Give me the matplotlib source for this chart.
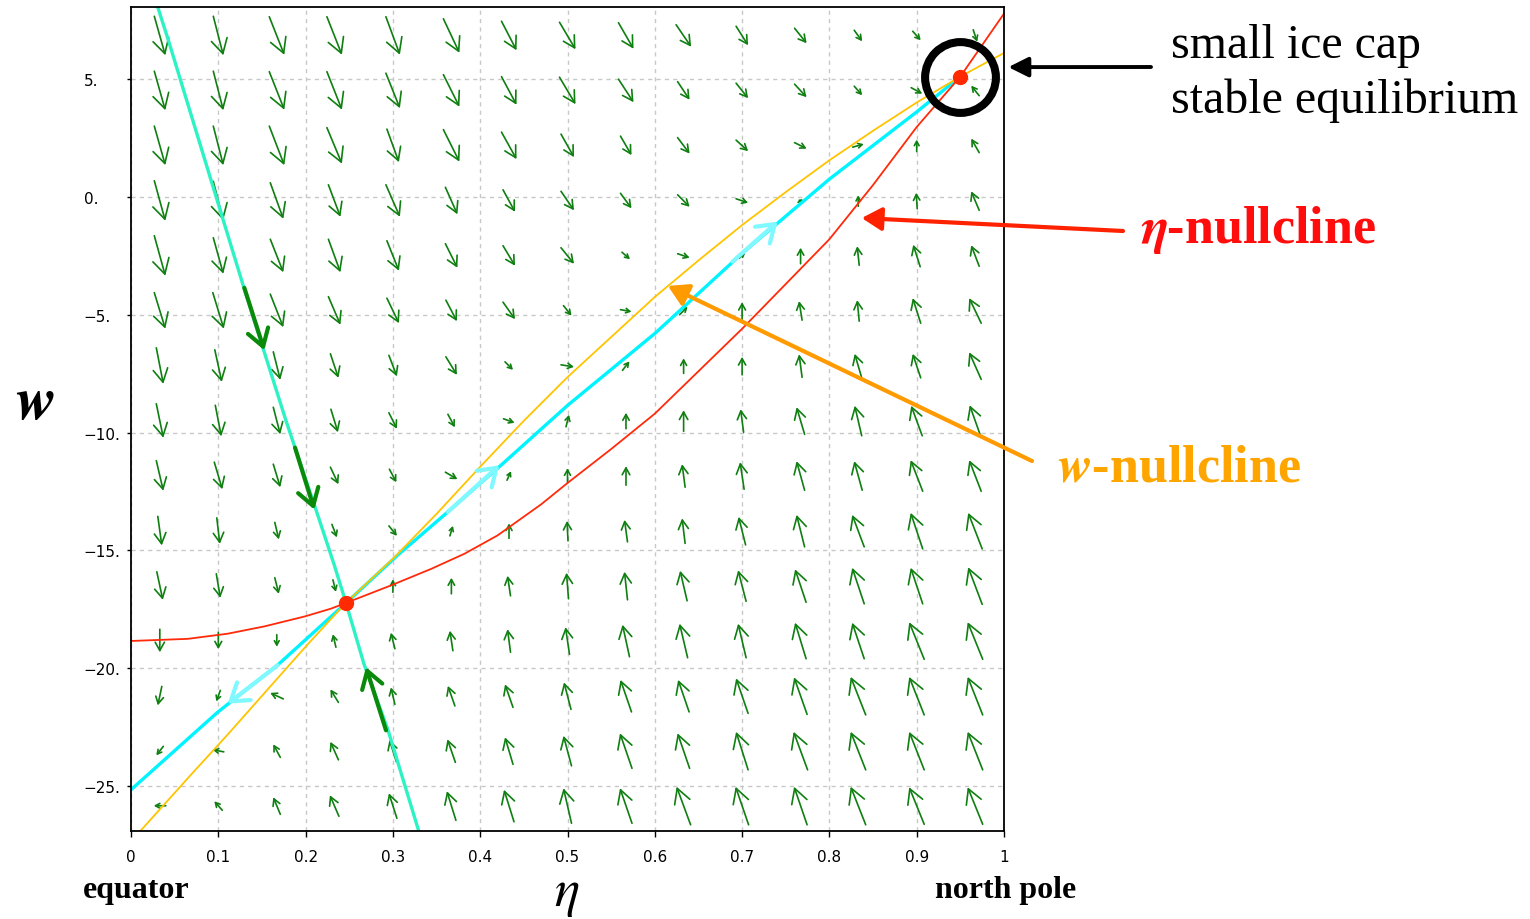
import numpy as np
import matplotlib
matplotlib.use("Agg")
import matplotlib.pyplot as plt
from matplotlib.patches import FancyArrowPatch, ArrowStyle

plt.rcParams["mathtext.fontset"] = "stix"
plt.rcParams["font.family"] = ["DejaVu Sans"]
SERIF = ["Liberation Serif", "DejaVu Serif"]

# ---- vector field (grid centres and drawn arrow components) ----
eta_grid = [0.033, 0.1, 0.167, 0.233, 0.3, 0.367, 0.433, 0.5, 0.567, 0.633, 0.7, 0.767, 0.833, 0.9, 0.967]
w_grid = [6.83, 4.5, 2.17, -0.17, -2.5, -4.83, -7.17, -9.5, -11.83, -14.17, -16.5, -18.83, -21.17, -23.5, -25.83]
# arrow components in pixels of the 1530x920 figure (right positive, down positive), one row per w_grid value
arrow_dx = [
    [11, 10, 15, 15, 14, 16, 15, 16, 15, 15, 12, 12, 8, 8, 4],
    [11, 10, 15, 15, 14, 16, 15, 16, 15, 12, 12, 12, 8, 11, -8],
    [11, 10, 15, 15, 12, 16, 15, 13, 11, 12, 12, 12, 11, 0, -8],
    [11, 10, 13, 12, 14, 12, 12, 13, 11, 12, 12, 5, 0, -1, -8],
    [11, 10, 13, 12, 12, 12, 12, 13, 8, 12, 6, 0, -2, -7, -8],
    [11, 11, 13, 12, 12, 11, 12, 8, 11, 8, 0, -3, -2, -8, -12],
    [7, 7, 7, 8, 8, 11, 8, 13, 7, 0, 0, -3, -7, -8, -12],
    [7, 6, 7, 7, 8, 7, 11, 3, 0, 0, -3, -8, -7, -11, -11],
    [7, 8, 7, 8, 7, 12, 4, 0, 0, -3, -4, -8, -8, -12, -12],
    [4, 3, 4, 5, 8, 3, 0, -1, -3, -3, -7, -8, -12, -12, -14],
    [6, 4, 4, 3, 0, 0, -3, -2, -3, -7, -8, -11, -12, -12, -14],
    [0, 0, 0, -3, -4, -3, -3, -4, -7, -8, -8, -11, -12, -15, -15],
    [-4, -4, -13, -8, -4, -7, -8, -7, -11, -11, -12, -13, -15, -15, -15],
    [-7, -11, -7, -8, -7, -8, -8, -8, -12, -12, -12, -14, -15, -15, -15],
    [-12, -8, -7, -9, -8, -9, -10, -8, -12, -14, -13, -13, -15, -15, -15],
]
arrow_dy = [
    [39, 39, 38, 38, 38, 34, 29, 27, 26, 22, 19, 15, 11, 9, 12],
    [39, 39, 38, 38, 35, 32, 28, 27, 23, 18, 15, 13, 9, 6, -10],
    [39, 39, 39, 36, 33, 32, 27, 23, 19, 16, 11, 6, -3, -12, -14],
    [40, 39, 36, 32, 32, 27, 22, 19, 15, 12, 4, -3, -11, -16, -19],
    [40, 36, 33, 33, 30, 24, 20, 16, 7, 4, -5, -16, -19, -22, -21],
    [36, 36, 33, 28, 25, 21, 17, 10, 2, -8, -17, -19, -21, -25, -25],
    [36, 32, 28, 24, 21, 18, 8, 2, -9, -15, -18, -23, -24, -24, -27],
    [34, 31, 27, 23, 16, 13, 4, -12, -16, -21, -23, -27, -30, -30, -31],
    [30, 27, 23, 17, 13, 7, -9, -15, -19, -23, -27, -29, -29, -31, -31],
    [29, 26, 17, 13, 10, -10, -15, -20, -22, -25, -28, -32, -32, -36, -36],
    [28, 24, 16, 12, -13, -16, -20, -26, -28, -30, -31, -33, -36, -36, -37],
    [23, 17, 12, -13, -16, -20, -23, -27, -32, -34, -34, -36, -36, -37, -37],
    [19, 11, -6, -13, -17, -20, -23, -27, -32, -32, -35, -37, -38, -38, -38],
    [9, -2, -13, -18, -22, -23, -27, -30, -35, -35, -38, -38, -38, -38, -38],
    [0, -9, -17, -21, -25, -29, -32, -35, -35, -38, -38, -38, -38, -37, -37],
]

# ---- curves ----
eta_null_x = [0, 0.065, 0.111, 0.153, 0.199, 0.229, 0.246, 0.298, 0.344, 0.382, 0.42, 0.47, 0.5,
              0.55, 0.6, 0.65, 0.7, 0.75, 0.8, 0.85, 0.9, 0.95, 1.0]
eta_null_w = [-18.84, -18.75, -18.53, -18.22, -17.80, -17.47, -17.23, -16.48, -15.78, -15.14, -14.36,
              -13.04, -12.14, -10.7, -9.2, -7.4, -5.6, -3.7, -1.8, 0.5, 2.96, 5.10, 7.77]
w_null_x = [0.0095, 0.069, 0.111, 0.160, 0.202, 0.246, 0.302, 0.35, 0.4, 0.45, 0.5, 0.55, 0.6,
            0.65, 0.7, 0.75, 0.8, 0.85, 0.9, 0.95, 1.0]
w_null_w = [-26.95, -24.5, -22.8, -20.75, -19.0, -17.23, -15.28, -13.45, -11.45, -9.5, -7.65, -5.95,
            -4.25, -2.7, -1.2, 0.2, 1.55, 2.8, 4.0, 5.10, 6.1]
unstable_x = [0, 0.0993, 0.168, 0.2463, 0.3055, 0.3628, 0.4258, 0.5, 0.6, 0.7, 0.8, 0.9, 0.95]
unstable_w = [-25.15, -21.86, -19.86, -17.23, -15.2, -13.37, -11.32, -8.85, -5.8, -2.4, 0.75, 3.6, 5.10]
stable_x = [0.0306, 0.0428, 0.0916, 0.129, 0.178, 0.212, 0.2325, 0.2463, 0.2669, 0.2944, 0.33]
stable_w = [8.05, 6.64, 0.715, -3.82, -9.55, -13.29, -15.58, -17.23, -19.82, -22.62, -26.95]

# direction arrows on the manifolds: (tail, head)
stable_arrows = [((0.1298, -3.86), (0.1527, -6.51)),
                 ((0.1879, -10.64), (0.2100, -13.27)),
                 ((0.2921, -22.63), (0.2692, -19.95))]
unstable_arrows = [((0.168, -19.87), (0.1107, -21.5)),
                   ((0.3628, -13.37), (0.4219, -11.39)),
                   ((0.689, -2.75), (0.7408, -1.05))]

saddle = (0.2463, -17.23)
ice_cap_eq = (0.9496, 5.10)

x_ticks = [0, 0.1, 0.2, 0.3, 0.4, 0.5, 0.6, 0.7, 0.8, 0.9, 1]
x_labels = ["0", "0.1", "0.2", "0.3", "0.4", "0.5", "0.6", "0.7", "0.8", "0.9", "1"]
y_ticks = [5, 0, -5, -10, -15, -20, -25]
y_labels = ["5.", "0.", "\u22125.", "\u221210.", "\u221215.", "\u221220.", "\u221225."]

W, H = 1530, 920
fig = plt.figure(figsize=(W / 100, H / 100), dpi=100)
ax = fig.add_axes([131 / W, 1 - 832 / H, 873 / W, 824 / H])
ax.set_xlim(0, 1)
ax.set_ylim(-26.9, 8.05)

# grid
ax.set_xticks(x_ticks)
ax.set_xticklabels(x_labels)
ax.set_yticks(y_ticks)
ax.set_yticklabels(y_labels)
ax.grid(True, color="#c8c8c8", lw=1.0, ls=(0, (3, 3)))
ax.set_axisbelow(True)
ax.tick_params(axis="x", direction="out", length=4, width=1, labelsize=11, pad=9)
ax.tick_params(axis="y", direction="out", length=3, width=1, labelsize=11, pad=31)
for lab in ax.get_yticklabels():
    lab.set_horizontalalignment("left")
for s in ax.spines.values():
    s.set_linewidth(1.3)

# vector field
sx = ax.bbox.width / 1.0
sy = ax.bbox.height / (8.05 + 26.9)
for i, wv in enumerate(w_grid):
    for j, ev in enumerate(eta_grid):
        dx, dy = arrow_dx[i][j], arrow_dy[i][j]
        L = np.hypot(dx, dy)
        ddx, ddw = dx / sx, -dy / sy
        p = FancyArrowPatch((ev - ddx / 2, wv - ddw / 2), (ev + ddx / 2, wv + ddw / 2),
                            arrowstyle=ArrowStyle("->", head_length=0.36, head_width=0.2),
                            mutation_scale=L * 0.72, lw=1.2, color="#0e7f10",
                            shrinkA=0, shrinkB=0, zorder=1.5)
        ax.add_patch(p)

# curves
ax.plot(unstable_x, unstable_w, color="#00f4ff", lw=2.4, zorder=2)
ax.plot(stable_x, stable_w, color="#2cf2c4", lw=2.4, zorder=2.1)
ax.plot(w_null_x, w_null_w, color="#ffc400", lw=1.3, zorder=2.2)
ax.plot(eta_null_x, eta_null_w, color="#ff2a0a", lw=1.3, zorder=2.3)

for tail, head in stable_arrows:
    ax.add_patch(FancyArrowPatch(tail, head, arrowstyle=ArrowStyle("->", head_length=0.6, head_width=0.38),
                                 mutation_scale=20, lw=3.0, color="#0a8a0a", shrinkA=0, shrinkB=0, zorder=3))
for tail, head in unstable_arrows:
    ax.add_patch(FancyArrowPatch(tail, head, arrowstyle=ArrowStyle("->", head_length=0.6, head_width=0.4),
                                 mutation_scale=20, lw=3.0, color="#7ff9ff", shrinkA=0, shrinkB=0, zorder=3))

ax.plot(*saddle, "o", ms=10, color="#ff2a00", zorder=4)
ax.plot(*ice_cap_eq, "o", ms=10, color="#ff2a00", zorder=4)
ax.plot(*ice_cap_eq, "o", ms=51, mfc="none", mec="black", mew=5.8, zorder=5, clip_on=False)

# annotations
ax.annotate("", xy=(1.005, 5.5), xytext=(1151, H - 68), textcoords="figure pixels",
            arrowprops=dict(arrowstyle="-|>,head_length=0.6,head_width=0.3", lw=2.8, color="black",
                            mutation_scale=20, shrinkA=0, shrinkB=0), annotation_clip=False)
ax.annotate("", xy=(0.837, -0.9), xytext=(1123, H - 232), textcoords="figure pixels",
            arrowprops=dict(arrowstyle="-|>,head_length=0.6,head_width=0.35", lw=3.0, color="#ff2200",
                            mutation_scale=20, shrinkA=0, shrinkB=0), annotation_clip=False)
ax.annotate("", xy=(0.615, -3.78), xytext=(1032, H - 462), textcoords="figure pixels",
            arrowprops=dict(arrowstyle="-|>,head_length=0.6,head_width=0.35", lw=3.0, color="#ff9a00",
                            mutation_scale=20, shrinkA=0, shrinkB=0), annotation_clip=False)

fig.text(1171 / W, 1 - 58 / H, "small ice cap", family=SERIF, fontsize=34.5, va="baseline")
fig.text(1171 / W, 1 - 113 / H, "stable equilibrium", family=SERIF, fontsize=34.5, va="baseline")
fig.text(1141 / W, 1 - 243 / H, r"$\boldsymbol{\eta}$-nullcline", family=SERIF, weight="bold",
         fontsize=37.5, color="#ff0d0d", va="baseline")
fig.text(1057 / W, 1 - 482 / H, r"$\boldsymbol{w}$-nullcline", family=SERIF, weight="bold",
         fontsize=37.5, color="#ffa500", va="baseline")

fig.text(35 / W, 1 - 419 / H, r"$\boldsymbol{w}$", fontsize=44, ha="center", va="baseline")
fig.text(567 / W, 1 - 906 / H, r"$\eta$", fontsize=38, ha="center", va="baseline")
fig.text(83 / W, 1 - 898 / H, "equator", family=SERIF, weight="bold", fontsize=23, va="baseline")
fig.text(935 / W, 1 - 898 / H, "north pole", family=SERIF, weight="bold", fontsize=23, va="baseline")

fig.savefig("out.png", dpi=100)
